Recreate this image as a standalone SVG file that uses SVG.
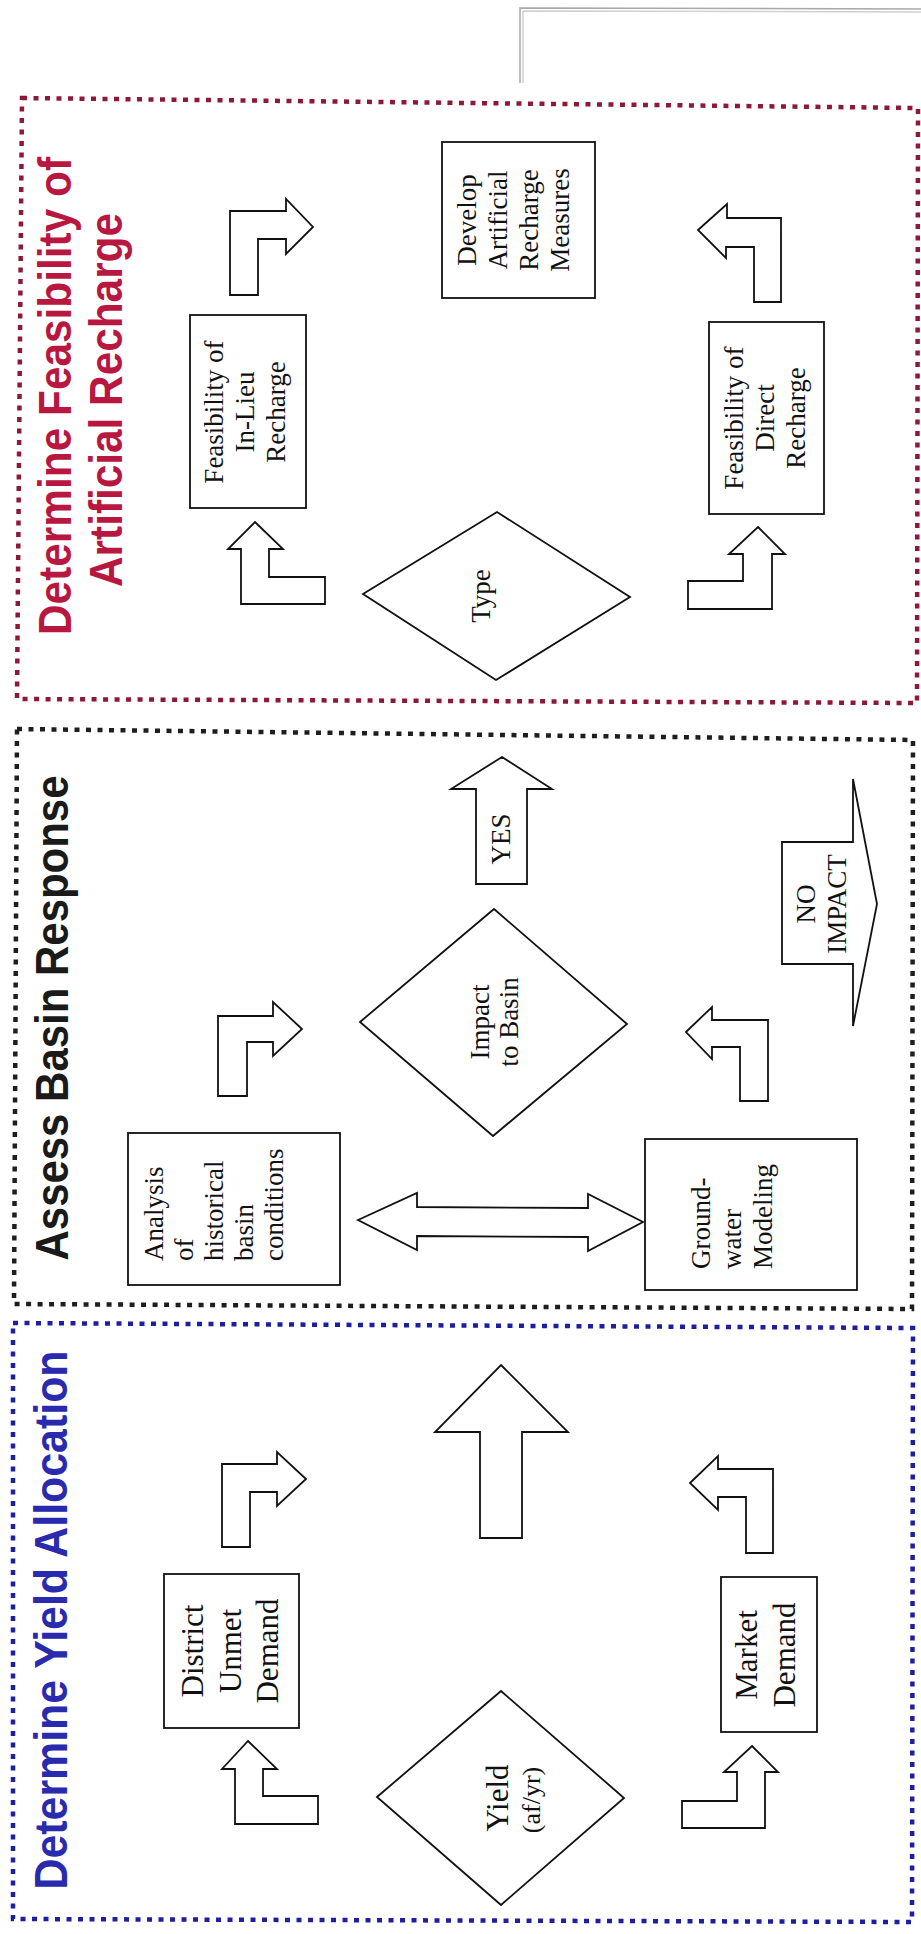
<svg xmlns="http://www.w3.org/2000/svg" width="921" height="1934" viewBox="0 0 921 1934">
<style>
.bg{fill:#ffffff}
.frame{fill:none;stroke-width:4.5;stroke-dasharray:5 6.5}
.red{stroke:#8e1838}
.blk{stroke:#1e1e1e}
.blu{stroke:#1e1ea0}
.shape{fill:#ffffff;stroke:#111;stroke-width:1.8;stroke-linejoin:miter}
.title{font-family:"Liberation Sans",Arial,sans-serif;font-weight:bold;font-size:46px;text-anchor:middle}
.t{font-family:"Liberation Serif","Times New Roman",serif;font-size:27px;fill:#111;text-anchor:middle}
.tl{font-family:"Liberation Serif","Times New Roman",serif;font-size:27px;fill:#111;text-anchor:start}
.tb{font-family:"Liberation Serif","Times New Roman",serif;font-size:31px;fill:#111;text-anchor:middle}
</style>
<rect class="bg" x="0" y="0" width="921" height="1934"/>
<g id="page-edge" fill="none" stroke="#a8a8a8" stroke-width="1.5">
<path d="M520,83 L520,8 L921,9"/>
<path d="M523,83 L523,11 L921,12" stroke="#d0d0d0"/>
</g>

<!-- Panel: Determine Feasibility of Artificial Recharge -->
<g id="panel-recharge">
<polygon class="frame red" points="22,98 918,108 917,703 17,699"/>
<text class="title" fill="#b8183f" transform="translate(71,396) rotate(-90)" textLength="478" lengthAdjust="spacingAndGlyphs">Determine Feasibility of</text>
<text class="title" fill="#b8183f" transform="translate(122,400) rotate(-90)" textLength="374" lengthAdjust="spacingAndGlyphs">Artificial Recharge</text>
</g>
<g id="node-develop">
<rect class="shape" x="442" y="142" width="153" height="156"/>
<text class="t" transform="translate(476,220) rotate(-90)"><tspan x="0" dy="0">Develop</tspan><tspan x="0" dy="31">Artificial</tspan><tspan x="0" dy="31">Recharge</tspan><tspan x="0" dy="31">Measures</tspan></text>
</g>
<g id="node-inlieu">
<rect class="shape" x="190" y="315" width="116" height="193"/>
<text class="t" transform="translate(223,412) rotate(-90)"><tspan x="0" dy="0">Feasibility of</tspan><tspan x="0" dy="31">In-Lieu</tspan><tspan x="0" dy="31">Recharge</tspan></text>
</g>
<g id="node-direct">
<rect class="shape" x="709" y="322" width="115" height="192"/>
<text class="t" transform="translate(743,418) rotate(-90)"><tspan x="0" dy="0">Feasibility of</tspan><tspan x="0" dy="31">Direct</tspan><tspan x="0" dy="31">Recharge</tspan></text>
</g>
<g id="node-type">
<polygon class="shape" points="363,594 497,512 630,597 496,680"/>
<text class="t" transform="translate(490,596) rotate(-90)">Type</text>
</g>

<!-- Panel: Assess Basin Response -->
<g id="panel-basin">
<polygon class="frame blk" points="17,729 913,740 912,1309 14,1304"/>
<text class="title" fill="#1a1a1a" transform="translate(68,1018) rotate(-90)" textLength="485" lengthAdjust="spacingAndGlyphs">Assess Basin Response</text>
</g>
<g id="node-analysis">
<rect class="shape" x="128" y="1133" width="212" height="152"/>
<text class="tl" transform="translate(163,1261) rotate(-90)"><tspan x="0" dy="0">Analysis</tspan><tspan x="0" dy="30">of</tspan><tspan x="0" dy="30">historical</tspan><tspan x="0" dy="30">basin</tspan><tspan x="0" dy="30">conditions</tspan></text>
</g>
<g id="node-groundwater">
<rect class="shape" x="645" y="1139" width="212" height="151"/>
<text class="tl" transform="translate(710,1269) rotate(-90)"><tspan x="0" dy="0">Ground-</tspan><tspan x="0" dy="31">water</tspan><tspan x="0" dy="31">Modeling</tspan></text>
</g>
<g id="node-impact">
<polygon class="shape" points="360,1022 494,909 627,1024 493,1136"/>
<text class="t" transform="translate(489,1022) rotate(-90)"><tspan x="0" dy="0">Impact</tspan><tspan x="0" dy="29">to Basin</tspan></text>
</g>

<!-- Panel: Determine Yield Allocation -->
<g id="panel-yield">
<polygon class="frame blu" points="13,1323 913,1328 912,1922 13,1919"/>
<text class="title" fill="#2a2aae" transform="translate(67,1620) rotate(-90)" textLength="539" lengthAdjust="spacingAndGlyphs">Determine Yield Allocation</text>
</g>
<g id="node-yield">
<polygon class="shape" points="377,1797 501,1691 624,1798 501,1905"/>
<text class="tb" transform="translate(508,1798) rotate(-90)">Yield</text>
<text class="t" style="font-size:26px" transform="translate(540,1800) rotate(-90)">(af/yr)</text>
</g>
<g id="node-district">
<rect class="shape" x="164" y="1574" width="135" height="154"/>
<text class="tb" transform="translate(203,1651) rotate(-90)"><tspan x="0" dy="0">District</tspan><tspan x="0" dy="37.5">Unmet</tspan><tspan x="0" dy="37.5">Demand</tspan></text>
</g>
<g id="node-market">
<rect class="shape" x="721" y="1577" width="96" height="155"/>
<text class="tb" transform="translate(757,1655) rotate(-90)"><tspan x="0" dy="0">Market</tspan><tspan x="0" dy="38">Demand</tspan></text>
</g>

<!-- Connectors (block arrows) -->
<g id="connectors">
<polygon class="shape" points="230,295 230,211 286,211 286,199 313,227 286,254 286,239 258,239 258,295"/>
<polygon class="shape" points="255,522 283,549 269,549 269,577 325,577 325,604 241,604 241,549 228,549"/>
<polygon class="shape" points="698,230 727,204 727,218 781,218 781,302 754,302 754,247 726,247 726,258"/>
<polygon class="shape" points="758,527 785,554 772,554 772,609 688,609 688,581 743,581 743,554 729,554"/>
<polygon class="shape" points="502,757 552,789 527,789 527,884 476,884 476,789 451,789"/>
<text class="t" transform="translate(510,839) rotate(-90)">YES</text>
<polygon class="shape" points="782,842 853,842 853,779 877,904 853,1026 853,964 782,964"/>
<text class="t" transform="translate(815,904) rotate(-90)"><tspan x="0" dy="0">NO</tspan><tspan x="0" dy="31">IMPACT</tspan></text>
<polygon class="shape" points="218,1096 218,1016 273,1016 273,1002 302,1029 273,1056 273,1042 247,1042 247,1096"/>
<polygon class="shape" points="686,1032 712,1007 712,1020 768,1020 768,1101 740,1101 740,1047 712,1047 712,1059"/>
<polygon class="shape" points="358,1220 417,1193 417,1207 588,1208 588,1194 643,1222 588,1251 588,1237 417,1236 417,1250"/>
<polygon class="shape" points="248,1741 277,1769 263,1769 263,1796 318,1796 318,1824 235,1824 235,1769 222,1769"/>
<polygon class="shape" points="222,1547 222,1464 277,1464 277,1452 306,1479 277,1506 277,1492 250,1492 250,1547"/>
<polygon class="shape" points="501,1365 568,1432 522,1432 522,1538 480,1538 480,1432 435,1432"/>
<polygon class="shape" points="690,1483 718,1456 718,1469 773,1469 773,1553 746,1553 746,1497 718,1497 718,1510"/>
<polygon class="shape" points="752,1746 778,1772 765,1772 765,1828 682,1828 682,1801 737,1801 737,1772 724,1772"/>
</g>
</svg>
